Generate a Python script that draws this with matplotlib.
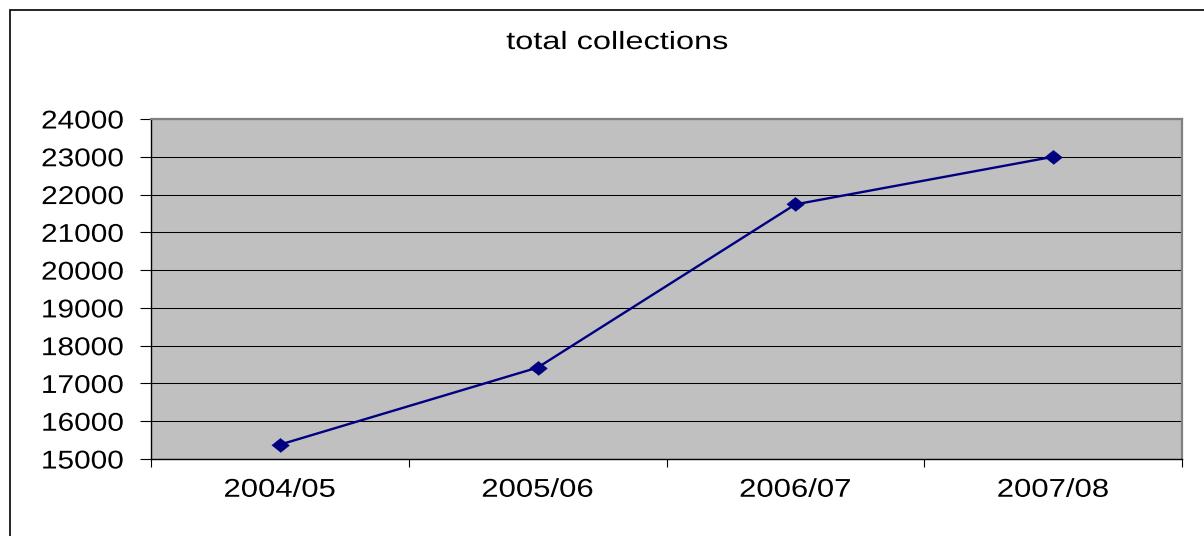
import matplotlib
matplotlib.use("Agg")
import matplotlib.pyplot as plt
from matplotlib.patheffects import AbstractPathEffect
from matplotlib.transforms import Affine2D
from matplotlib.patches import Rectangle
from matplotlib.ticker import FixedLocator, NullFormatter

categories = ["2004/05", "2005/06", "2006/07", "2007/08"]
values = [15380, 17420, 21740, 23000]
y_ticks = [15000, 16000, 17000, 18000, 19000, 20000, 21000, 22000, 23000, 24000]
title = "total collections"


class HStretch(AbstractPathEffect):
    def __init__(self, sx, anchor="center"):
        super().__init__()
        self.sx = sx
        self.anchor = anchor

    def draw_path(self, renderer, gc, tpath, affine, rgbFace=None):
        ext = tpath.get_extents()
        if self.anchor == "center":
            cx = (ext.x0 + ext.x1) / 2
        elif self.anchor == "right":
            cx = ext.x1
        else:
            cx = ext.x0
        pre = Affine2D().translate(-cx, 0).scale(self.sx, 1).translate(cx, 0)
        renderer.draw_path(gc, tpath, pre + affine, rgbFace)


plt.rcParams["font.family"] = ["Liberation Sans", "DejaVu Sans"]

W, H = 1204, 536
fig = plt.figure(figsize=(W / 100, H / 100), dpi=100)
fig.patch.set_facecolor("white")

# outer chart border
fig.patches.append(Rectangle((9.5 / W, -0.2), 1.5, 1.2 - 9.5 / H,
                             transform=fig.transFigure, fill=False,
                             edgecolor="black", linewidth=1.2))

left, right, top, bottom = 151, 1182, 119, 459
ax = fig.add_axes([left / W, (H - bottom) / H, (right - left) / W, (bottom - top) / H])
ax.set_facecolor("#C0C0C0")

x = list(range(len(categories)))
ax.plot(x, values, color="#000080", linewidth=1.7,
        marker=[(-1, 0), (0, 0.8), (1, 0), (0, -0.8)], markersize=12.5,
        markerfacecolor="#000080", markeredgecolor="#000080", markeredgewidth=0.5,
        zorder=3)

ax.set_xlim(-0.5, len(categories) - 0.5)
ax.set_ylim(y_ticks[0], y_ticks[-1])

ax.xaxis.set_major_locator(FixedLocator([i - 0.5 for i in range(len(categories) + 1)]))
ax.xaxis.set_major_formatter(NullFormatter())
ax.xaxis.set_minor_locator(FixedLocator(x))
ax.set_xticklabels(categories, minor=True)
ax.tick_params(axis="x", which="major", direction="out", length=5.8, width=0.8, color="black")
ax.tick_params(axis="x", which="minor", length=0, pad=13.5, labelsize=18.5)

ax.set_yticks(y_ticks)
ax.set_yticklabels([str(v) for v in y_ticks])
ax.tick_params(axis="y", direction="out", length=7.9, width=0.8, color="black",
               pad=11.5, labelsize=18.5)

ax.grid(axis="y", color="black", linewidth=0.75)
ax.set_axisbelow(True)

for s in ["left", "bottom"]:
    ax.spines[s].set_color("black")
    ax.spines[s].set_linewidth(1.0)
for s in ["top", "right"]:
    ax.spines[s].set_color("#808080")
    ax.spines[s].set_linewidth(1.6)

for lab in ax.get_xticklabels(minor=True):
    lab.set_path_effects([HStretch(1.21, "center")])
for lab in ax.get_yticklabels():
    lab.set_path_effects([HStretch(1.16, "right")])

fig.text(617 / W, 1 - 49 / H, title, ha="center", va="baseline", fontsize=18,
         path_effects=[HStretch(1.3, "center")])

fig.savefig("out.png", dpi=100)
